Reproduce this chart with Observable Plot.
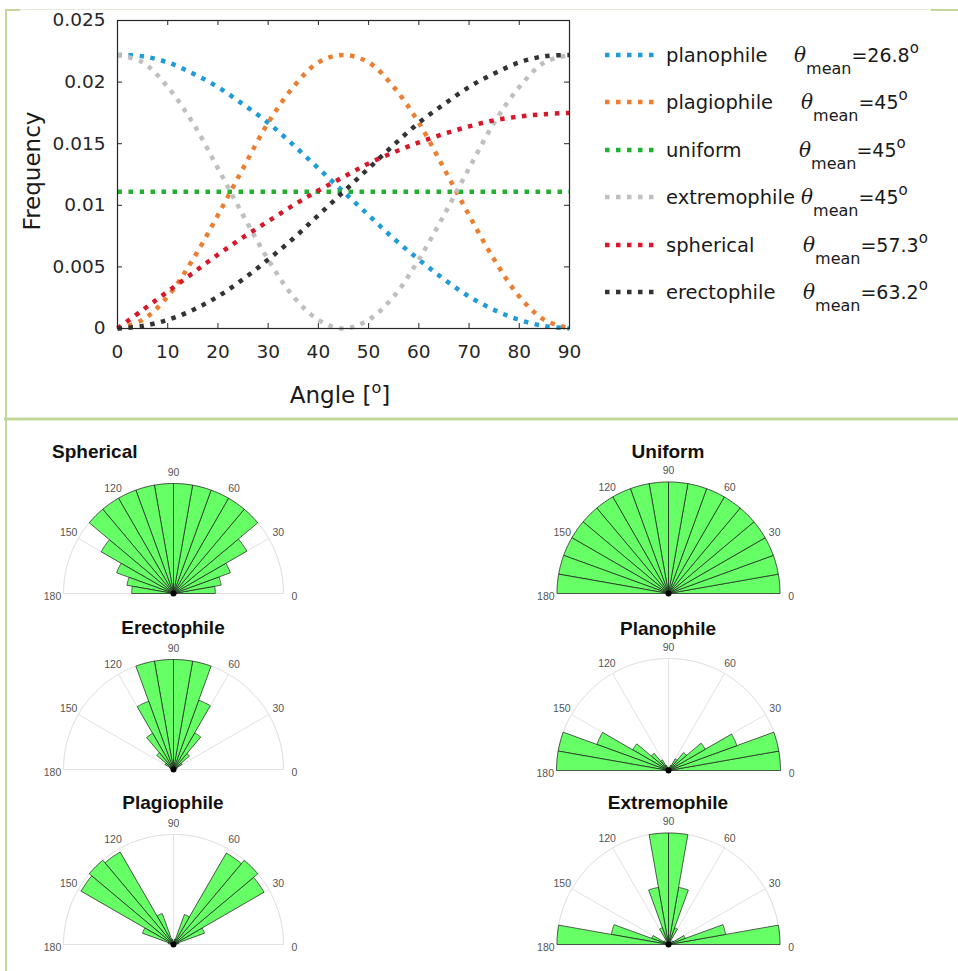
<!DOCTYPE html>
<html><head><meta charset="utf-8">
<script src="https://cdn.jsdelivr.net/npm/d3@7"></script>
<script src="https://cdn.jsdelivr.net/npm/@observablehq/plot@0.6"></script>
<style>
html,body{margin:0;padding:0;background:#fff;}
#page{position:relative;width:958px;height:971px;overflow:hidden;background:#fff;}
#page svg{display:block;}
</style></head>
<body><div id="page"></div>
<script>
// ---------- Line chart data ----------
const angles = [0,5,10,15,20,25,30,35,40,45,50,55,60,65,70,75,80,85,90];
const planophile   = [0.0222,0.0221,0.0216,0.0207,0.0196,0.0182,0.0167,0.0149,0.0130,0.0111,0.0092,0.0073,0.0056,0.0040,0.0026,0.0015,0.0007,0.0002,0.0000];
const plagiophile  = [0.0000,0.0007,0.0026,0.0056,0.0092,0.0130,0.0167,0.0196,0.0216,0.0222,0.0216,0.0196,0.0167,0.0130,0.0092,0.0056,0.0026,0.0007,0.0000];
const uniform      = [0.0111,0.0111,0.0111,0.0111,0.0111,0.0111,0.0111,0.0111,0.0111,0.0111,0.0111,0.0111,0.0111,0.0111,0.0111,0.0111,0.0111,0.0111,0.0111];
const extremophile = [0.0222,0.0216,0.0196,0.0167,0.0130,0.0092,0.0056,0.0026,0.0007,0.0000,0.0007,0.0026,0.0056,0.0092,0.0130,0.0167,0.0196,0.0216,0.0222];
const spherical    = [0.0000,0.0015,0.0030,0.0045,0.0060,0.0074,0.0087,0.0100,0.0112,0.0123,0.0134,0.0143,0.0151,0.0158,0.0164,0.0169,0.0172,0.0174,0.0175];
const erectophile  = [0.0000,0.0002,0.0007,0.0015,0.0026,0.0040,0.0056,0.0073,0.0092,0.0111,0.0130,0.0149,0.0167,0.0182,0.0196,0.0207,0.0216,0.0221,0.0222];

const seriesNames  = ["planophile","plagiophile","uniform","extremophile","spherical","erectophile"];
const seriesValues = [planophile, plagiophile, uniform, extremophile, spherical, erectophile];
const seriesColors = ["#1f9bd7","#ec7e31","#22b12f","#bfbfbf","#d7182a","#333333"];
const thetaMeans   = ["26.8","45","45","45","57.3","63.2"];

const xTicks = [0,10,20,30,40,50,60,70,80,90];
const yTicks = [0,0.005,0.01,0.015,0.02,0.025];
const yTickLabels = ["0","0.005","0.01","0.015","0.02","0.025"];
const xLabel = "Angle [";
const yLabel = "Frequency";

// ---------- Rose (polar histogram) data, normalised radius per 10° bin ----------
const roseBins = [0,10,20,30,40,50,60,70,80,90,100,110,120,130,140,150,160,170];
const roseBinWidth = 10;
const roseSpherical    = [0.38,0.44,0.55,0.77,1,1,1,1,1,1,1,1,1,1,0.76,0.55,0.43,0.38];
const roseUniform      = [1,1,1,1,1,1,1,1,1,1,1,1,1,1,1,1,1,1];
const roseErectophile  = [0.01,0.02,0.04,0.09,0.19,0.385,0.67,1,1,1,1,0.66,0.38,0.2,0.09,0.04,0.02,0.01];
const rosePlanophile   = [1,1,0.65,0.38,0.21,0.12,0.05,0.03,0.02,0.02,0.03,0.05,0.11,0.2,0.37,0.68,1,1];
const rosePlagiophile  = [0.02,0.05,0.3,0.95,1,0.96,0.29,0.05,0.02,0.02,0.05,0.3,0.97,1,0.97,0.3,0.05,0.02];
const roseExtremophile = [1,0.52,0.16,0.05,0.03,0.03,0.16,0.52,1,1,0.52,0.16,0.03,0.03,0.05,0.16,0.52,1];
const roseTitles = ["Spherical","Uniform","Erectophile","Planophile","Plagiophile","Extremophile"];
const roseValues = [roseSpherical, roseUniform, roseErectophile, rosePlanophile, rosePlagiophile, roseExtremophile];
const polarTicks = [0,30,60,90,120,150,180];

// ---------- helpers ----------
const page = document.getElementById("page");
function place(el, left, top, w, h) {
  const div = document.createElement("div");
  div.style.cssText = `position:absolute;left:${left}px;top:${top}px;width:${w}px;height:${h}px;`;
  div.appendChild(el);
  page.appendChild(div);
  return div;
}
const rad = a => a * Math.PI / 180;

// ---------- Line chart ----------
const tidy = [];
seriesNames.forEach((name, s) => angles.forEach((a, i) => tidy.push({series: name, angle: a, value: seriesValues[s][i]})));

const ink = "#262626";
const lineChart = Plot.plot({
  width: 600, height: 420,
  marginLeft: 117, marginRight: 31, marginTop: 20, marginBottom: 92,
  style: {background: "transparent", fontFamily: "DejaVu Sans", fontSize: "18px", color: ink},
  x: {domain: [0, 90]},
  y: {domain: [0, 0.025]},
  color: {domain: seriesNames, range: seriesColors},
  marks: [
    Plot.line(tidy, {x: "angle", y: "value", z: "series", stroke: "series", strokeWidth: 4.5, strokeDasharray: "4.5,6.5", strokeLinecap: "butt", curve: "catmull-rom"}),
    Plot.frame({stroke: ink, strokeWidth: 1.2}),
    Plot.ruleX(xTicks, {x: d => d, insetTop: 303, stroke: ink}),
    Plot.ruleX(xTicks, {x: d => d, insetBottom: 303, stroke: ink}),
    Plot.ruleY(yTicks, {y: d => d, insetLeft: 447, stroke: ink}),
    Plot.ruleY(yTicks, {y: d => d, insetRight: 447, stroke: ink}),
    Plot.axisX({ticks: xTicks, tickSize: 0, tickPadding: 16, fontSize: 18.5, label: null, tickFormat: d => String(d)}),
    Plot.axisY({ticks: yTicks, tickSize: 0, tickPadding: 12, fontSize: 18.5, label: null, tickFormat: d => yTickLabels[yTicks.indexOf(d)]})
  ]
});
place(lineChart, 0, 0, 600, 420);

// ---------- Rose plots ----------
const roseLayout = [
  {cx: 173, cy: 592.5, R: 110},
  {cx: 668, cy: 593, R: 111.5},
  {cx: 173, cy: 768.5, R: 110},
  {cx: 668, cy: 770, R: 112},
  {cx: 173, cy: 944, R: 110},
  {cx: 668, cy: 944, R: 111.5}
];
const arcAngles = d3.range(0, 181, 1);
function rosePlot(values, R) {
  const W = 300, H = 150, ox = 150, oy = 128;
  const wedges = [];
  roseBins.forEach((a, i) => {
    const r = values[i];
    wedges.push({bin: i, x: 0, y: 0});
    for (let k = 0; k <= 10; k++) {
      const t = rad(a + k * roseBinWidth / 10);
      wedges.push({bin: i, x: r * Math.cos(t), y: r * Math.sin(t)});
    }
    wedges.push({bin: i, x: 0, y: 0});
  });
  const inner = polarTicks.filter(a => a !== 0 && a !== 180);
  const ends = polarTicks.filter(a => a === 0 || a === 180);
  return Plot.plot({
    width: W, height: H, margin: 0,
    style: {background: "transparent", fontFamily: "Liberation Sans", fontSize: "10.5px"},
    x: {domain: [-ox / R, (W - ox) / R], axis: null},
    y: {domain: [-(H - oy) / R, oy / R], axis: null},
    marks: [
      Plot.line(arcAngles, {x: a => Math.cos(rad(a)), y: a => Math.sin(rad(a)), stroke: "#dcdcdc", strokeWidth: 1}),
      Plot.link(polarTicks, {x1: () => 0, y1: () => 0, x2: a => Math.cos(rad(a)), y2: a => Math.sin(rad(a)), stroke: "#e2e2e2", strokeWidth: 1}),
      Plot.line(wedges, {x: "x", y: "y", z: "bin", fill: "#66ff66", stroke: "#1a1a1a", strokeWidth: 0.7, strokeLinejoin: "round", curve: "linear"}),
      Plot.dot([0], {x: () => 0, y: () => 0, r: 3, fill: "#000"}),
      Plot.text(inner, {x: a => 1.1 * Math.cos(rad(a)), y: a => 1.1 * Math.sin(rad(a)), text: a => String(a), fill: "#555", fontSize: 10.5}),
      Plot.text(ends, {x: a => 1.1 * Math.cos(rad(a)), y: () => 0, text: a => String(a), dy: 3, fill: "#555", fontSize: 10.5})
    ]
  });
}
roseValues.forEach((vals, i) => {
  const L = roseLayout[i];
  place(rosePlot(vals, L.R), L.cx - 150, L.cy - 128, 300, 150);
});

// ---------- Overlay: borders, axis titles, legend, rose titles ----------
const svg = d3.select(page).append("svg")
  .attr("width", 958).attr("height", 971)
  .style("position", "absolute").style("left", "0px").style("top", "0px")
  .style("pointer-events", "none");

const border = "#c4d79b";
svg.append("rect").attr("x", 6).attr("y", 9).attr("width", 952).attr("height", 1).attr("fill", "#e6ecd9");
svg.append("rect").attr("x", 5).attr("y", 9).attr("width", 15).attr("height", 2).attr("fill", border);
svg.append("rect").attr("x", 931).attr("y", 9).attr("width", 27).attr("height", 2).attr("fill", border);
svg.append("rect").attr("x", 5).attr("y", 9).attr("width", 2).attr("height", 962).attr("fill", border);
svg.append("rect").attr("x", 4).attr("y", 417.5).attr("width", 954).attr("height", 3).attr("fill", border);

// axis titles
svg.append("text")
  .attr("transform", "translate(40,171) rotate(-90)")
  .attr("text-anchor", "middle")
  .attr("font-family", "DejaVu Sans").attr("font-size", 23).attr("fill", "#1a1a1a")
  .text(yLabel);
const ax = svg.append("text").attr("x", 340).attr("y", 403).attr("text-anchor", "middle")
  .attr("font-family", "DejaVu Sans").attr("font-size", 23).attr("fill", "#1a1a1a");
ax.append("tspan").text(xLabel);
ax.append("tspan").attr("dy", -10).attr("font-size", 16).text("o");
ax.append("tspan").attr("dy", 10).text("]");

// legend
const rowY = [55, 102, 150, 197, 245, 292];
const thetaX = [794, 801, 799, 801, 803, 803];
seriesNames.forEach((name, i) => {
  const y = rowY[i];
  svg.append("line").attr("x1", 605).attr("x2", 660).attr("y1", y).attr("y2", y)
    .attr("stroke", seriesColors[i]).attr("stroke-width", 4.5).attr("stroke-dasharray", "4.5,6.5");
  svg.append("text").attr("x", 666).attr("y", y + 7)
    .attr("font-family", "DejaVu Sans").attr("font-size", 19.5).attr("fill", "#1a1a1a").text(name);
  const t = svg.append("text").attr("x", thetaX[i]).attr("y", y + 7)
    .attr("font-family", "DejaVu Sans").attr("font-size", 19.5).attr("fill", "#1a1a1a");
  t.append("tspan").attr("font-family", "DejaVu Serif").attr("font-style", "italic").attr("font-size", 20).text("θ");
  t.append("tspan").attr("dy", 12).attr("font-size", 16).text("mean");
  t.append("tspan").attr("dy", -12).attr("font-size", 19).text("=" + thetaMeans[i]);
  t.append("tspan").attr("dy", -9).attr("font-size", 15).text("o");
});

// rose titles
roseTitles.forEach((title, i) => {
  const L = roseLayout[i];
  const left = i === 0;
  svg.append("text")
    .attr("x", left ? 52 : L.cx).attr("y", L.cy - 135)
    .attr("text-anchor", left ? "start" : "middle")
    .attr("font-family", "Liberation Sans").attr("font-weight", "bold").attr("font-size", 19).attr("fill", "#111")
    .text(title);
});
</script>
</body></html>
